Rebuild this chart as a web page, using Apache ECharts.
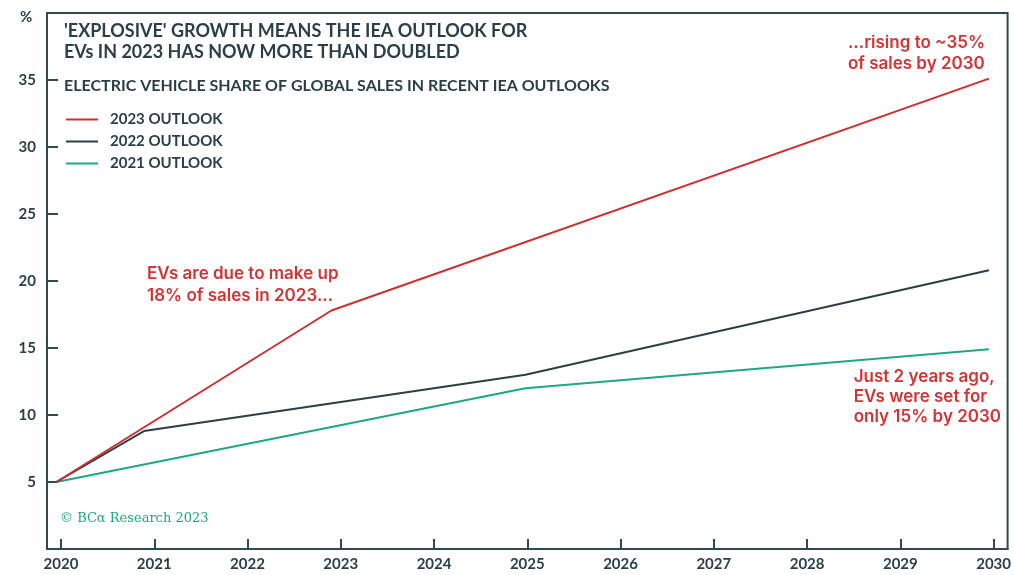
<!DOCTYPE html>
<html>
<head>
<meta charset="utf-8">
<script src="https://cdn.jsdelivr.net/npm/echarts@6/dist/echarts.min.js"></script>
<style>
  html, body { margin: 0; padding: 0; background: #fff; }
  #main { width: 1014px; height: 575px; }
</style>
</head>
<body>
<div id="main"></div>
<script>
// tick labels
var yearTicks = [2020, 2021, 2022, 2023, 2024, 2025, 2026, 2027, 2028, 2029, 2030];

// 2023 outlook
var years2023 = [2019.95, 2022.9, 2029.95];
var share2023 = [5, 17.8, 35.1];
// 2022 outlook
var years2022 = [2019.95, 2020.89, 2024.98, 2029.95];
var share2022 = [5, 8.8, 13.0, 20.8];
// 2021 outlook
var years2021 = [2019.95, 2024.98, 2029.95];
var share2021 = [5, 12.0, 14.9];

var seriesNames = ['2023 OUTLOOK', '2022 OUTLOOK', '2021 OUTLOOK'];
var seriesColors = ['#c9302f', '#2b3f46', '#1fa785'];

var dark = '#2a3f47';
var red = '#d03535';

function pairs(xs, ys) {
    return xs.map(function (x, i) { return [x, ys[i]]; });
}

var myChart = echarts.init(document.getElementById('main'));
var option = {
    animation: false,
    textStyle: { fontFamily: 'Lato' },
    grid: { left: 47, right: 6, top: 13, bottom: 26, show: true, borderColor: '#2f4a51', borderWidth: 2 },
    legend: {
        orient: 'vertical',
        left: 61,
        top: 107,
        itemGap: 7,
        itemWidth: 32,
        itemHeight: 2,
        icon: 'rect',
        data: seriesNames,
        textStyle: { color: dark, fontSize: 15, fontWeight: 'bold', fontFamily: 'Lato', padding: [0, 0, 0, 7] }
    },
    graphic: [
        { type: 'text', left: 20, top: 10, style: { text: '%', fill: dark, font: 'bold 15px Lato' } },
        { type: 'text', left: 64, top: 21, style: { text: "'EXPLOSIVE' GROWTH MEANS THE IEA OUTLOOK FOR\nEVs IN 2023 HAS NOW MORE THAN DOUBLED", fill: dark, font: 'bold 18px Lato', lineHeight: 21 } },
        { type: 'text', left: 64, top: 78, style: { text: 'ELECTRIC VEHICLE SHARE OF GLOBAL SALES IN RECENT IEA OUTLOOKS', fill: dark, font: 'bold 16px Lato' } },
        { type: 'text', left: 147, top: 263, style: { text: 'EVs are due to make up\n18% of sales in 2023...', fill: red, font: '600 17px Inter', lineHeight: 22 } },
        { type: 'text', right: 29, top: 32, style: { text: '...rising to ~35%\nof sales by 2030', fill: red, font: '600 17px Inter', lineHeight: 21, align: 'right' } },
        { type: 'text', right: 13, top: 367, style: { text: 'Just 2 years ago,\nEVs were set for\nonly 15% by 2030', fill: red, font: '600 17px Inter', lineHeight: 20, align: 'right' } },
        { type: 'text', left: 60, top: 512, style: { text: '\u00a9 BC\u03b1 Research 2023', fill: '#1fa785', font: '13px "DejaVu Serif"' } }
    ],
    xAxis: {
        type: 'value',
        min: 2019.85,
        max: 2030.15,
        splitLine: { show: false },
        axisLine: { show: true, onZero: false, lineStyle: { color: '#2f4a51', width: 2 } },
        axisTick: { show: true, inside: true, length: 10, customValues: yearTicks, lineStyle: { color: '#2f4a51', width: 2 } },
        axisLabel: {
            customValues: yearTicks,
            color: dark, fontSize: 15, fontWeight: 'bold', margin: 8,
            formatter: function (v) { return String(Math.round(v)); }
        }
    },
    yAxis: {
        type: 'value',
        min: 0,
        max: 40,
        interval: 5,
        splitLine: { show: false },
        axisLine: { show: true, lineStyle: { color: '#2f4a51', width: 2 } },
        axisTick: { show: true, inside: true, length: 11, lineStyle: { color: '#2f4a51', width: 2 } },
        axisLabel: {
            color: dark, fontSize: 15, fontWeight: 'bold', margin: 11,
            formatter: function (v) { return (v === 0 || v === 40) ? '' : String(v); }
        }
    },
    series: [
        { name: seriesNames[0], type: 'line', symbol: 'none', data: pairs(years2023, share2023), lineStyle: { color: seriesColors[0], width: 2 }, itemStyle: { color: seriesColors[0] }, z: 4 },
        { name: seriesNames[1], type: 'line', symbol: 'none', data: pairs(years2022, share2022), lineStyle: { color: seriesColors[1], width: 2 }, itemStyle: { color: seriesColors[1] }, z: 3 },
        { name: seriesNames[2], type: 'line', symbol: 'none', data: pairs(years2021, share2021), lineStyle: { color: seriesColors[2], width: 2 }, itemStyle: { color: seriesColors[2] }, z: 2 }
    ]
};
myChart.setOption(option);
</script>
</body>
</html>
